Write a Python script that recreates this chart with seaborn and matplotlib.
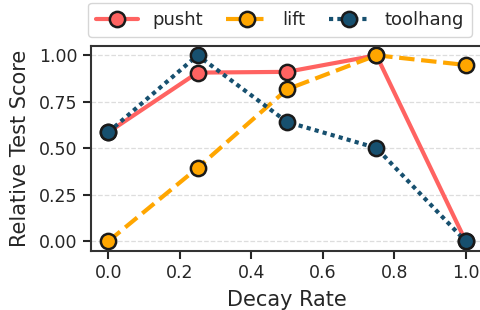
import pandas as pd
import seaborn as sns
import matplotlib.pyplot as plt

decay_rate = [0.0, 0.25, 0.5, 0.75, 1.0]
pusht = [0.586, 0.907, 0.911, 1.0, 0.0]
lift = [0.0, 0.395, 0.817, 1.0, 0.948]
toolhang = [0.586, 1.0, 0.642, 0.502, 0.0]

series_names = ["pusht", "lift", "toolhang"]
colors = ["#ff6361", "#ffa600", "#17506f"]
styles = ["-", "--", (0, (1, 1))]

sns.set_theme(style="ticks")
plt.rcParams["font.family"] = ["DejaVu Sans"]

fig = plt.figure(figsize=(4.8, 3.1), dpi=100)
ax = fig.add_axes([91 / 480, 1 - 250.7 / 310, (483 - 91) / 480, (250.7 - 46) / 310])

for name, vals, c, ls in zip(series_names, [pusht, lift, toolhang], colors, styles):
    df = pd.DataFrame({"Decay Rate": decay_rate, "score": vals})
    sns.lineplot(data=df, x="Decay Rate", y="score", ax=ax, color=c, linestyle=ls,
                 linewidth=3, marker="o", markersize=11, markeredgecolor="#1a1a1a",
                 markeredgewidth=1.8, markerfacecolor=c, label=name)

ax.set_xlim(-0.048, 1.048)
ax.set_ylim(-0.05, 1.05)
ax.set_xticks([0.0, 0.2, 0.4, 0.6, 0.8, 1.0])
ax.set_yticks([0.0, 0.25, 0.5, 0.75, 1.0])
ax.set_xlabel("Decay Rate", fontsize=15, color="#262626", labelpad=6)
ax.set_ylabel("Relative Test Score", fontsize=15, color="#262626", labelpad=7)
ax.tick_params(labelsize=12.5, length=6, width=1.5, colors="#262626")
ax.yaxis.grid(True, linestyle="--", color="#dddddd", linewidth=0.9)
for sp in ax.spines.values():
    sp.set_linewidth(1.5)
    sp.set_color("#333333")

ax.legend(loc="lower left", bbox_to_anchor=(88 / 480, 1 - 37 / 310, 384 / 480, 32 / 310),
          bbox_transform=fig.transFigure, mode="expand", ncol=3, fontsize=13,
          frameon=True, fancybox=True, edgecolor="#cccccc", handlelength=2.3,
          borderaxespad=0, borderpad=0.45)

fig.savefig("out.png", dpi=100)
